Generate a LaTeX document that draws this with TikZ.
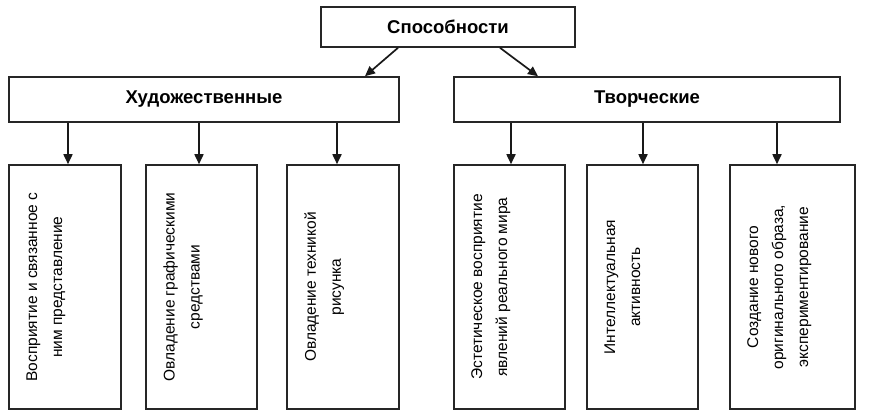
\documentclass[tikz,border=0pt]{standalone}
\usepackage{fontspec}
\setmainfont{Liberation Sans}
\usetikzlibrary{arrows.meta}
\begin{document}
\begin{tikzpicture}[x=1pt,y=-1pt,
 box/.style={draw=black!85, line width=1.6pt, inner sep=0pt, fill=white},
 head/.style={font=\fontsize{18.5}{22}\selectfont\bfseries},
 vtext/.style={rotate=90, anchor=north, align=center, inner sep=0pt, font=\fontsize{15.5}{25}\selectfont},
 arr/.style={-{Triangle[length=10pt,width=9pt]}, line width=1.7pt, draw=black!90}]
\useasboundingbox[fill=white] (0,0) rectangle (869,416);
% boxes
\node[box, head, minimum width=254pt, minimum height=40pt] (top) at (448,27) {Способности};
\node[box, head, minimum width=390pt, minimum height=45pt] (h) at (204,99.5) {Художественные};
\node[box, head, minimum width=386pt, minimum height=45pt] (t) at (647,99.5) {Творческие};
\node[box, minimum width=112pt, minimum height=244pt] (b1) at (65,287) {};
\node[box, minimum width=111pt, minimum height=244pt] (b2) at (201.5,287) {};
\node[box, minimum width=112pt, minimum height=244pt] (b3) at (343,287) {};
\node[box, minimum width=111pt, minimum height=244pt] (b4) at (509.5,287) {};
\node[box, minimum width=111pt, minimum height=244pt] (b5) at (642.5,287) {};
\node[box, minimum width=125pt, minimum height=244pt] (b6) at (792.5,287) {};
% texts
\node[vtext] (b1t) at ([xshift=18pt]b1.west) {Восприятие и связанное с\\ним представление};
\node[vtext] (b2t) at ([xshift=18pt]b2.west) {Овладение графическими\\средствами};
\node[vtext] (b3t) at ([xshift=18pt]b3.west) {Овладение техникой\\рисунка};
\node[vtext] (b4t) at ([xshift=18pt]b4.west) {Эстетическое восприятие\\явлений реального мира};
\node[vtext] (b5t) at ([xshift=18pt]b5.west) {Интеллектуальная\\активность};
\node[vtext] (b6t) at ([xshift=18pt]b6.west) {Создание нового\\оригинального образа,\\экспериментирование};
% connectors
\draw[arr] ([xshift=-50pt]top.south) -- ([xshift=161pt]h.north);
\draw[arr] ([xshift=52pt]top.south) -- ([xshift=-109pt]t.north);
\draw[arr] (h.south -| b1.north) ++(3pt,0) coordinate (s1) -- (s1 |- b1.north);
\draw[arr] (h.south -| b2.north) ++(-2.5pt,0) coordinate (s2) -- (s2 |- b2.north);
\draw[arr] (h.south -| b3.north) ++(-6pt,0) coordinate (s3) -- (s3 |- b3.north);
\draw[arr] (t.south -| b4.north) ++(1.5pt,0) coordinate (s4) -- (s4 |- b4.north);
\draw[arr] (t.south -| b5.north) ++(0.5pt,0) coordinate (s5) -- (s5 |- b5.north);
\draw[arr] (t.south -| b6.north) ++(-15.5pt,0) coordinate (s6) -- (s6 |- b6.north);
\end{tikzpicture}
\end{document}
